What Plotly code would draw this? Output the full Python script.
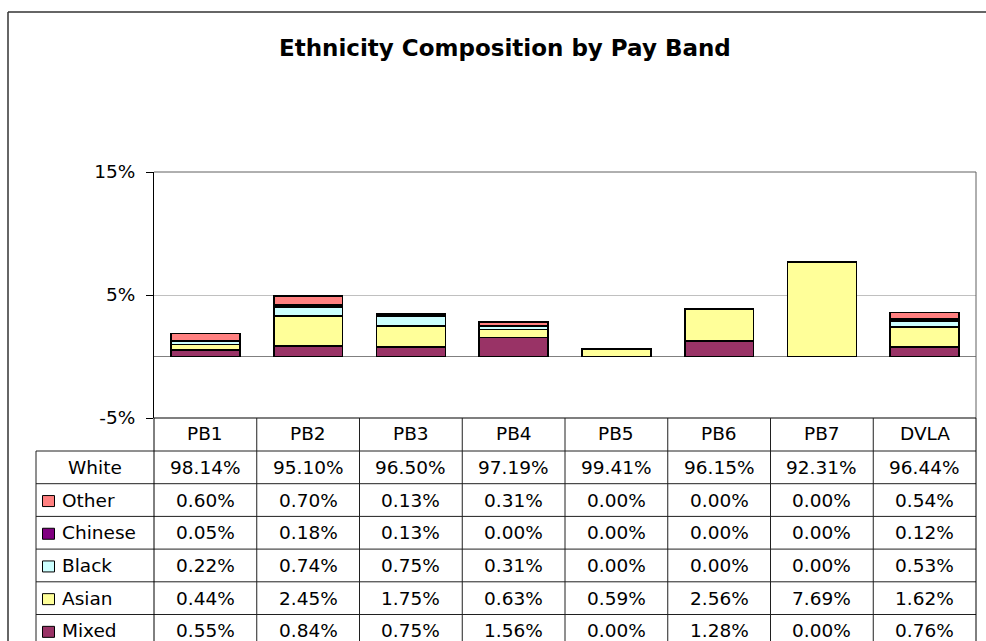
import plotly.graph_objects as go

# ---- data -------------------------------------------------------------
categories = ["PB1", "PB2", "PB3", "PB4", "PB5", "PB6", "PB7", "DVLA"]
white = [98.14, 95.10, 96.50, 97.19, 99.41, 96.15, 92.31, 96.44]
other = [0.60, 0.70, 0.13, 0.31, 0.00, 0.00, 0.00, 0.54]
chinese = [0.05, 0.18, 0.13, 0.00, 0.00, 0.00, 0.00, 0.12]
black = [0.22, 0.74, 0.75, 0.31, 0.00, 0.00, 0.00, 0.53]
asian = [0.44, 2.45, 1.75, 0.63, 0.59, 2.56, 7.69, 1.62]
mixed = [0.55, 0.84, 0.75, 1.56, 0.00, 1.28, 0.00, 0.76]

y_ticks = [-5, 5, 15]
y_tick_labels = ["-5%", "5%", "15%"]

# ---- styling ----------------------------------------------------------
FONT = "DejaVu Sans"
W, H = 986, 641
L, R, T, B = 154, 976, 172, 418          # plot area in pixels

colors = {
    "Other": "#FF8080",
    "Chinese": "#800080",
    "Black": "#CCFFFF",
    "Asian": "#FFFF99",
    "Mixed": "#993366",
}

# stacked from the bottom up
stack = [("Mixed", mixed), ("Asian", asian), ("Black", black),
         ("Chinese", chinese), ("Other", other)]

# table rows from top to bottom (White has no bar, so no key)
table_rows = [("White", white), ("Other", other), ("Chinese", chinese),
              ("Black", black), ("Asian", asian), ("Mixed", mixed)]


def px_x(px):
    return (px - L) / (R - L)


def px_y(py):
    return (B - py) / (B - T)


fig = go.Figure()
for name, vals in stack:
    fig.add_trace(go.Bar(
        x=categories, y=vals, name=name,
        marker=dict(color=colors[name], line=dict(color="black", width=1.6)),
        hovertemplate="%{x} " + name + ": %{y:.2f}%<extra></extra>",
    ))

shapes = []
annotations = []

# outer chart frame
shapes.append(dict(type="line", xref="paper", yref="paper",
                   x0=px_x(8), x1=px_x(1000), y0=px_y(12), y1=px_y(12),
                   line=dict(color="#333333", width=1.5)))
shapes.append(dict(type="line", xref="paper", yref="paper",
                   x0=px_x(8), x1=px_x(8), y0=px_y(12), y1=px_y(700),
                   line=dict(color="#333333", width=1.5)))

# plot-area frame (top and right)
shapes.append(dict(type="line", xref="paper", yref="paper",
                   x0=0, x1=1, y0=1, y1=1, line=dict(color="#606060", width=1)))
shapes.append(dict(type="line", xref="paper", yref="paper",
                   x0=1, x1=1, y0=0, y1=1, line=dict(color="#606060", width=1)))

# ---- data table beneath the plot -------------------------------------
header_h = 33
row_h = 32.7
bottom_px = 700
row_edges = [B, B + header_h] + [B + header_h + row_h * (i + 1) for i in range(len(table_rows))]
key_left = 36
line_style = dict(color="#202020", width=1)

# horizontal rules
shapes.append(dict(type="line", xref="paper", yref="paper",
                   x0=0, x1=1, y0=0, y1=0, line=dict(color="black", width=1.2)))
for yp in row_edges[1:]:
    shapes.append(dict(type="line", xref="paper", yref="paper",
                       x0=px_x(key_left), x1=1, y0=px_y(yp), y1=px_y(yp),
                       line=line_style))

# vertical rules: column boundaries between categories
for i in range(1, len(categories)):
    shapes.append(dict(type="line", xref="x", yref="paper",
                       x0=i - 0.5, x1=i - 0.5, y0=0, y1=px_y(bottom_px),
                       line=line_style))
for xp in (0, 1):
    shapes.append(dict(type="line", xref="paper", yref="paper",
                       x0=xp, x1=xp, y0=0, y1=px_y(bottom_px),
                       line=dict(color="black", width=1)))
shapes.append(dict(type="line", xref="paper", yref="paper",
                   x0=px_x(key_left), x1=px_x(key_left),
                   y0=px_y(row_edges[1]), y1=px_y(bottom_px), line=line_style))

cell_font = dict(family=FONT, size=18.5, color="black")

# header row: category names
hdr_mid = (row_edges[0] + row_edges[1]) / 2 - 1
for c in categories:
    annotations.append(dict(xref="x", yref="paper", x=c, y=px_y(hdr_mid),
                            text=c, showarrow=False, font=cell_font,
                            xanchor="center", yanchor="middle"))

# data rows
for r, (name, vals) in enumerate(table_rows):
    top, bot = row_edges[r + 1], row_edges[r + 2]
    mid = (top + bot) / 2
    for c, v in zip(categories, vals):
        annotations.append(dict(xref="x", yref="paper", x=c, y=px_y(mid),
                                text=f"{v:.2f}%", showarrow=False, font=cell_font,
                                xanchor="center", yanchor="middle"))
    if name in colors:
        shapes.append(dict(type="rect", xref="paper", yref="paper",
                           x0=px_x(42.5), x1=px_x(54.5),
                           y0=px_y(mid - 4.5), y1=px_y(mid + 6.5),
                           fillcolor=colors[name],
                           line=dict(color="black", width=1)))
        annotations.append(dict(xref="paper", yref="paper", x=px_x(60), y=px_y(mid),
                                text=name, showarrow=False, font=cell_font,
                                xanchor="left", yanchor="middle"))
    else:
        annotations.append(dict(xref="paper", yref="paper",
                                x=px_x((key_left + L) / 2), y=px_y(mid),
                                text=name, showarrow=False, font=cell_font,
                                xanchor="center", yanchor="middle"))

# title
annotations.append(dict(xref="paper", yref="paper", x=px_x(505), y=px_y(48),
                        text="<b>Ethnicity Composition by Pay Band</b>",
                        showarrow=False, xanchor="center", yanchor="middle",
                        font=dict(family=FONT, size=23, color="black")))

fig.update_layout(
    width=W, height=H, autosize=False,
    margin=dict(l=L, r=W - R, t=T, b=H - B, pad=0),
    paper_bgcolor="white", plot_bgcolor="white",
    barmode="stack", bargap=0.33,
    showlegend=False,
    shapes=shapes, annotations=annotations,
    font=dict(family=FONT, color="black"),
)
fig.update_xaxes(
    type="category", categoryorder="array", categoryarray=categories,
    range=[-0.5, len(categories) - 0.5],
    showticklabels=False, ticks="", showgrid=False, zeroline=False, showline=False,
)
fig.update_yaxes(
    range=[-5, 15], tickvals=y_ticks, ticktext=y_tick_labels,
    ticks="outside", ticklen=7, tickcolor="black", tickwidth=1,
    ticklabelstandoff=7,
    tickfont=dict(family=FONT, size=18.5, color="black"),
    showline=True, linecolor="black", linewidth=1,
    showgrid=True, gridcolor="#C0C0C0", gridwidth=1,
    zeroline=True, zerolinecolor="#808080", zerolinewidth=1.2,
)

fig.write_html("out.html")
